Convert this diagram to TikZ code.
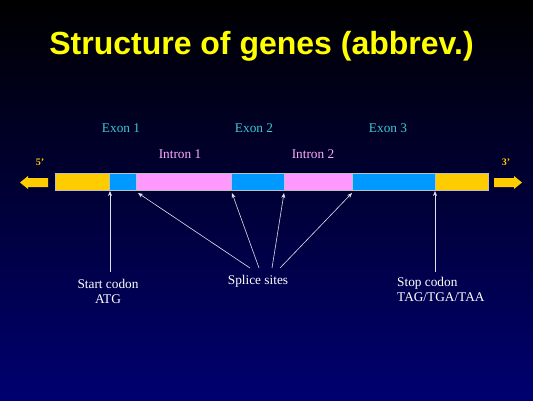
\documentclass[tikz,border=0pt]{standalone}
\usepackage{fontspec}
\setmainfont{Liberation Serif}
\newfontfamily\titlefont{Liberation Sans}
\usetikzlibrary{arrows.meta}
\definecolor{gyellow}{RGB}{255,204,0}
\definecolor{gblue}{RGB}{0,153,255}
\definecolor{gpink}{RGB}{255,153,255}
\definecolor{exontext}{RGB}{60,200,210}
\definecolor{introntext}{RGB}{255,170,255}
\definecolor{titleyellow}{RGB}{255,255,0}
\definecolor{bgbottom}{RGB}{0,0,112}
\definecolor{pointer}{RGB}{225,225,235}
\begin{document}
\begin{tikzpicture}[x=1pt,y=-1pt,
  seg/.style={draw=gray!50,line width=0.4pt,inner sep=0pt,outer sep=0pt,
    minimum height=17pt,anchor=north west},
  exonlbl/.style={text=exontext,font=\fontsize{13.3}{15}\selectfont,anchor=base,inner sep=0pt},
  intronlbl/.style={text=introntext,font=\fontsize{13.3}{15}\selectfont,anchor=base,inner sep=0pt},
  endlbl/.style={text=gyellow,font=\bfseries\fontsize{10}{12}\selectfont,anchor=base,inner sep=0pt},
  whitelbl/.style={text=white,font=\fontsize{13.3}{15.3}\selectfont,inner sep=0pt},
  bigarrow/.style={fill=gyellow,draw=none},
  ptr/.style={draw=pointer,line width=0.6pt,-{Stealth[length=5pt,width=4pt]}}]
\shade[top color=black,bottom color=bgbottom] (0,0) rectangle (533,400);
\useasboundingbox (0,0) rectangle (533,400);

\node[text=titleyellow,font=\titlefont\bfseries\fontsize{32}{36}\selectfont,anchor=base,inner sep=0pt] (title) at (261.5,54.5) {Structure of genes (abbrev.)};

% bar segments
\node[seg,fill=gyellow,minimum width=54pt] (y1) at (55,173) {};
\node[seg,fill=gblue,minimum width=27pt] (b1) at (109,173) {};
\node[seg,fill=gpink,minimum width=95pt] (p1) at (136,173) {};
\node[seg,fill=gblue,minimum width=53pt] (b2) at (231,173) {};
\node[seg,fill=gpink,minimum width=68pt] (p2) at (284,173) {};
\node[seg,fill=gblue,minimum width=83pt] (b3) at (352,173) {};
\node[seg,fill=gyellow,minimum width=53pt] (y2) at (435,173) {};

% end arrows
\fill[bigarrow] (48,178) -- (28,178) -- (28,176) -- (20,182.5) -- (28,189) -- (28,187) -- (48,187) -- cycle;
\fill[bigarrow] (494,178) -- (514,178) -- (514,176) -- (522,182.5) -- (514,189) -- (514,187) -- (494,187) -- cycle;
\node[endlbl] (five) at (40,165.5) {5'};
\node[endlbl] (three) at (506,165.5) {3'};

% labels
\node[exonlbl] (e1) at (121,132) {Exon 1};
\node[exonlbl] (e2) at (254,132) {Exon 2};
\node[exonlbl] (e3) at (388,132) {Exon 3};
\node[intronlbl] (i1) at (180,158) {Intron 1};
\node[intronlbl] (i2) at (313,158) {Intron 2};

\node[whitelbl,align=center,anchor=north] (start) at (108,279) {Start codon\\ATG};
\node[whitelbl,anchor=base] (splice) at (258,284) {Splice sites};
\node[whitelbl,align=left,anchor=north west] (stop) at (397,277) {Stop codon\\TAG/TGA/TAA};

% pointer targets
\coordinate (t0) at (b1.south west);
\coordinate (t1) at (p1.south west);
\coordinate (t2) at (b2.south west);
\coordinate (t3) at (p2.south west);
\coordinate (t4) at (b3.south west);
\coordinate (t5) at (y2.south west);
\coordinate (s0) at (110,272);
\coordinate (s1) at (250,268);
\coordinate (s2) at (259,268);
\coordinate (s3) at (272,268);
\coordinate (s4) at (280,268);
\coordinate (s5) at (435,272);

\draw[ptr] (s0) -- ([shift={(1,1)}]t0);
\draw[ptr] (s1) -- ([shift={(2,3)}]t1);
\draw[ptr] (s2) -- ([shift={(1,3)}]t2);
\draw[ptr] (s3) -- ([shift={(0,3)}]t3);
\draw[ptr] (s4) -- ([shift={(0,3)}]t4);
\draw[ptr] (s5) -- ([shift={(0,1)}]t5);
\end{tikzpicture}
\end{document}
